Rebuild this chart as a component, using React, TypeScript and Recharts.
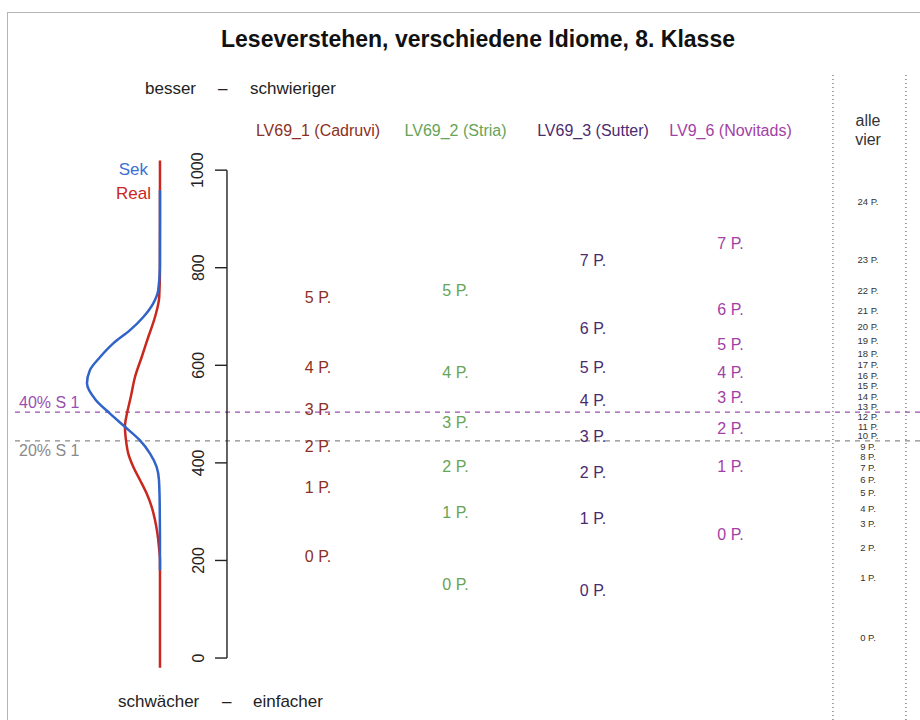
import React from "react";
import { ScatterChart, Scatter, XAxis, YAxis, ReferenceLine } from "recharts";

const COLUMNS = ["LV69_1 (Cadruvi)", "LV69_2 (Stria)", "LV69_3 (Sutter)", "LV9_6 (Novitads)", "alle vier"];
const COL_COLORS = ["#8c2f24", "#66a456", "#4b2b70", "#a23fa6", "#333333"];

// score of each point level, index = points (0 P., 1 P., ...)
const cadruvi = [209, 350, 434, 510, 596, 738];
const stria = [150, 299, 393, 482, 586, 754];
const sutter = [139, 287, 381, 455, 527, 596, 676, 814];
const novitads = [254, 393, 471, 533, 586, 643, 715, 850];
const alleVier = [
  43, 166, 227, 275, 307, 340, 365, 391, 414, 434, 457, 475, 496,
  516, 537, 559, 580, 602, 625, 650, 680, 713, 754, 816, 936,
];

const SCORE_TICKS = [0, 200, 400, 600, 800, 1000];

// density curves (per mille), read along the score axis
const sekScore = [180, 250, 320, 365, 392, 419, 447, 474, 501, 529, 563, 590, 617, 645, 672, 699, 727, 754, 800, 900, 959];
const sekDens = [0, 0, 0.02, 0.07, 0.23, 0.68, 1.4, 2.4, 3.42, 4.4, 5.0, 4.8, 4.1, 3.2, 2.05, 1.14, 0.46, 0.12, 0.01, 0, 0];
const realScore = [-20, 100, 200, 228, 256, 283, 310, 337, 365, 392, 419, 447, 474, 501, 535, 576, 617, 658, 699, 740, 800, 900, 1020];
const realDens = [0, 0, 0, 0.07, 0.18, 0.34, 0.57, 0.91, 1.37, 1.83, 2.17, 2.33, 2.4, 2.26, 2.0, 1.71, 1.25, 0.8, 0.34, 0.05, 0, 0, 0];

const THRESHOLDS = [
  { label: "40% S 1", value: 504, color: "#9a4fb0", pos: "insideBottomLeft" },
  { label: "20% S 1", value: 445, color: "#8a8a8a", pos: "insideTopLeft" },
];

const FONT = "'Liberation Sans', Arial, Helvetica, sans-serif";
const HEADER_SCORE = 1082;
const AXIS_COL = -0.662;
const TICK_COL = 0.087;
const SEPARATORS = [3.745, 4.276];

const levels = (scores: number[], col: number) => scores.map((y, p) => ({ x: col, y, p }));
const curve = (scores: number[], dens: number[]) => scores.map((y, i) => ({ x: dens[i], y }));

const pointLabel = (color: string, size: number) => (props: any) => (
  <text x={props.cx} y={props.cy} textAnchor="middle" dominantBaseline="central"
    fill={color} fontSize={size} fontFamily={FONT}>
    {props.payload.p} P.
  </text>
);

const headerLabel = (props: any) => {
  const { cx, cy, payload } = props;
  const color = COL_COLORS[payload.x];
  if (payload.name === "alle vier") {
    return (
      <text x={cx} y={cy} textAnchor="middle" fill={color} fontSize={16} fontFamily={FONT}>
        <tspan x={cx} dy={-4}>alle</tspan>
        <tspan x={cx} dy={19}>vier</tspan>
      </text>
    );
  }
  return (
    <text x={cx} y={cy} textAnchor="middle" dominantBaseline="central" fill={color} fontSize={16} fontFamily={FONT}>
      {payload.name}
    </text>
  );
};

const tickLabel = (value: number) => (props: any) => {
  const vb = props.viewBox;
  if (!vb) return null;
  const x = vb.x - 17;
  const y = vb.y;
  return (
    <text x={x} y={y} transform={`rotate(-90 ${x} ${y})`} textAnchor="middle" dominantBaseline="central"
      fill="#222" fontSize={16} fontFamily={FONT}>
      {value}
    </text>
  );
};

const Empty = () => <g />;

export default function App() {
  const headers = COLUMNS.map((name, i) => ({ x: i, y: HEADER_SCORE, name }));
  const cols = [cadruvi, stria, sutter, novitads];
  const txt = (left: number, top: number, s: string) => (
    <div style={{ position: "absolute", left, top, fontSize: 17, color: "#222", whiteSpace: "nowrap" }}>{s}</div>
  );

  return (
    <div style={{ position: "absolute", left: 0, top: 0, width: 920, height: 720, background: "#fff", fontFamily: FONT }}>
      <div style={{ position: "absolute", left: 7, top: 12, right: 0, bottom: 0, borderLeft: "1px solid #b5b5b5", borderTop: "1px solid #b5b5b5" }} />
      <div style={{ position: "absolute", left: 478, top: 26, transform: "translateX(-50%)", whiteSpace: "nowrap", fontSize: 23, fontWeight: "bold", color: "#111" }}>
        Leseverstehen, verschiedene Idiome, 8. Klasse
      </div>
      {txt(145, 79, "besser")}
      {txt(218, 79, "–")}
      {txt(250, 79, "schwieriger")}
      {txt(118, 692, "schwächer")}
      {txt(222, 692, "–")}
      {txt(253, 692, "einfacher")}
      <div style={{ position: "absolute", right: 920 - 148, top: 160, fontSize: 17, color: "#3d6fd0", textAlign: "right" }}>Sek</div>
      <div style={{ position: "absolute", right: 920 - 151, top: 184, fontSize: 17, color: "#c8281e", textAlign: "right" }}>Real</div>

      <div style={{ position: "absolute", left: 0, top: 0 }}>
        <ScatterChart width={920} height={720} margin={{ top: 75, right: 0, bottom: 0, left: 15 }}>
          <XAxis xAxisId="col" type="number" dataKey="x" domain={[-2.2036, 4.378]} hide />
          <XAxis xAxisId="dens" type="number" dataKey="x" domain={[-52.06, 9.93]} reversed hide />
          <YAxis type="number" dataKey="y" domain={[-127, 1195]} hide />

          {THRESHOLDS.map((t) => (
            <ReferenceLine key={t.label} xAxisId="col" y={t.value} stroke={t.color} strokeDasharray="5 5" strokeWidth={1.3}
              label={{ value: t.label, position: t.pos as any, offset: 4, fill: t.color, fontSize: 16, fontFamily: FONT }} />
          ))}
          {SEPARATORS.map((s) => (
            <ReferenceLine key={s} xAxisId="col" x={s} stroke="#666" strokeDasharray="1 3" strokeWidth={1.2} />
          ))}
          <ReferenceLine xAxisId="col" segment={[{ x: AXIS_COL, y: 0 }, { x: AXIS_COL, y: 1000 }]} stroke="#222" strokeWidth={1.4} />
          {SCORE_TICKS.map((t) => (
            <ReferenceLine key={`t${t}`} xAxisId="col" segment={[{ x: AXIS_COL - TICK_COL, y: t }, { x: AXIS_COL, y: t }]}
              stroke="#222" strokeWidth={1.4} label={tickLabel(t)} />
          ))}

          <Scatter xAxisId="dens" data={curve(realScore, realDens)} shape={<Empty />} line={{ stroke: "#c8281e", strokeWidth: 2.5 }}
            lineJointType="monotoneY" isAnimationActive={false} />
          <Scatter xAxisId="dens" data={curve(sekScore, sekDens)} shape={<Empty />} line={{ stroke: "#2f63c8", strokeWidth: 2.5 }}
            lineJointType="monotoneY" isAnimationActive={false} />

          <Scatter xAxisId="col" data={headers} shape={headerLabel} isAnimationActive={false} />
          {cols.map((c, i) => (
            <Scatter key={i} xAxisId="col" data={levels(c, i)} shape={pointLabel(COL_COLORS[i], 16)} isAnimationActive={false} />
          ))}
          <Scatter xAxisId="col" data={levels(alleVier, 4)} shape={pointLabel(COL_COLORS[4], 9.5)} isAnimationActive={false} />
        </ScatterChart>
      </div>
    </div>
  );
}
